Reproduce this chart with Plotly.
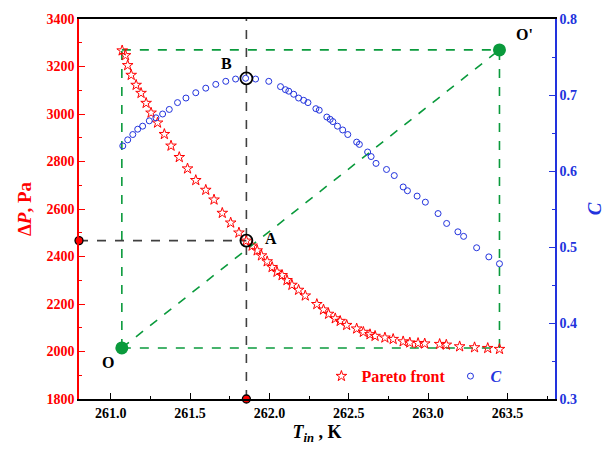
import plotly.graph_objects as go

# ---------------- data ----------------
pareto_T = [261.072, 261.093, 261.107, 261.129, 261.160, 261.191, 261.223, 261.254, 261.295,
            261.338, 261.380, 261.432, 261.484, 261.536, 261.599, 261.651, 261.703, 261.756,
            261.808, 261.854, 261.891, 261.923, 261.950, 261.986, 262.017, 262.048, 262.080,
            262.111, 262.142, 262.184, 262.226, 262.299, 262.341, 262.373, 262.415, 262.446,
            262.487, 262.550, 262.592, 262.634, 262.666, 262.728, 262.780, 262.843, 262.885,
            262.937, 262.979, 263.073, 263.115, 263.199, 263.293, 263.376, 263.450]
pareto_dP = [3267, 3247, 3205, 3164, 3122, 3088, 3046, 3005, 2963,
             2915, 2866, 2818, 2770, 2721, 2680, 2639, 2583, 2542,
             2500, 2466, 2445, 2425, 2404, 2379, 2355, 2335, 2321,
             2300, 2280, 2259, 2235, 2199, 2176, 2158, 2139, 2128,
             2111, 2096, 2082, 2072, 2065, 2058, 2052, 2042, 2037,
             2035, 2033, 2031, 2028, 2021, 2017, 2014, 2010]

c_T = [261.076, 261.107, 261.139, 261.170, 261.201, 261.243, 261.285, 261.327, 261.369,
       261.421, 261.474, 261.536, 261.599, 261.662, 261.725, 261.787, 261.850, 261.913,
       261.996, 262.070, 262.101, 262.122, 262.153, 262.184, 262.216, 262.243, 262.293,
       262.314, 262.362, 262.383, 262.400, 262.429, 262.462, 262.494, 262.550, 262.567,
       262.619, 262.641, 262.672, 262.738, 262.787, 262.843, 262.870, 262.931, 262.983,
       263.063, 263.117, 263.188, 263.224, 263.306, 263.383, 263.450]
c_val = [0.633, 0.641, 0.648, 0.655, 0.659, 0.666, 0.670, 0.675, 0.681,
         0.690, 0.696, 0.703, 0.709, 0.714, 0.718, 0.721, 0.722, 0.721,
         0.718, 0.711, 0.707, 0.705, 0.701, 0.696, 0.693, 0.690, 0.682,
         0.680, 0.671, 0.668, 0.665, 0.659, 0.654, 0.648, 0.638, 0.635,
         0.625, 0.619, 0.610, 0.602, 0.594, 0.579, 0.574, 0.567, 0.559,
         0.544, 0.531, 0.520, 0.514, 0.499, 0.487, 0.478]

point_O = (261.07, 2015)
point_Op = (263.45, 3270)
point_A = (261.855, 2467)
point_B = (261.855, 0.722)

x_range = [260.8, 263.8]
y_range = [1800, 3400]
y2_range = [0.3, 0.8]
x_ticks = [261.0, 261.5, 262.0, 262.5, 263.0, 263.5]

RED = "#ff0000"
BLUE = "#2233dd"
GREEN = "#0a9a3c"
FONT = "Liberation Serif"

fig = go.Figure()

# green dashed rectangle and diagonal
gdash = dict(color=GREEN, width=1.6, dash="dash")
Ox, Oy = point_O
Px, Py = point_Op
for (x0, y0, x1, y1) in [(Ox, Oy, Px, Oy), (Ox, Py, Px, Py), (Ox, Oy, Ox, Py),
                         (Px, Oy, Px, Py), (Ox, Oy, Px, Py)]:
    fig.add_shape(type="line", x0=x0, y0=y0, x1=x1, y1=y1, xref="x", yref="y",
                  line=gdash, layer="below")

# black dashed guide lines
kdash = dict(color="#404040", width=1.6, dash="dash")
fig.add_shape(type="line", x0=point_A[0], x1=point_A[0], y0=y_range[0], y1=y_range[1],
              xref="x", yref="y", line=kdash, layer="below")
fig.add_shape(type="line", x0=x_range[0], x1=point_A[0], y0=point_A[1], y1=point_A[1],
              xref="x", yref="y", line=kdash, layer="below")

fig.add_trace(go.Scatter(
    x=pareto_T, y=pareto_dP, mode="markers",
    name="<span style='color:#ff0000'><b>Pareto front</b></span>",
    marker=dict(symbol="star-open", size=8, color=RED, line=dict(width=1, color=RED)),
    yaxis="y"))
fig.add_trace(go.Scatter(
    x=c_T, y=c_val, mode="markers",
    name="<span style='color:#2233dd'><b><i>C</i></b></span>",
    marker=dict(symbol="circle-open", size=6, color=BLUE, line=dict(width=1, color=BLUE)),
    yaxis="y2"))

# green end points
fig.add_trace(go.Scatter(x=[Ox, Px], y=[Oy, Py], mode="markers", showlegend=False,
                         marker=dict(size=13, color=GREEN), yaxis="y", cliponaxis=False))
# A and B circles
fig.add_trace(go.Scatter(x=[point_A[0]], y=[point_A[1]], mode="markers", showlegend=False,
                         marker=dict(symbol="circle-open", size=12, color="black",
                                     line=dict(width=1.8, color="black")), yaxis="y"))
fig.add_trace(go.Scatter(x=[point_B[0]], y=[point_B[1]], mode="markers", showlegend=False,
                         marker=dict(symbol="circle-open", size=12, color="black",
                                     line=dict(width=1.8, color="black")), yaxis="y2"))
# red projection dots on axes
fig.add_trace(go.Scatter(x=[x_range[0], point_A[0]], y=[point_A[1], y_range[0]],
                         mode="markers", showlegend=False, cliponaxis=False,
                         marker=dict(size=8, color=RED, line=dict(width=1.3, color="black")),
                         yaxis="y"))

lab = dict(family=FONT, size=16, color="black")
for txt, x, y in [("A", 262.01, 2476), ("B", 261.73, 3213), ("O", 260.98, 1953),
                  ("O'", 263.61, 3335)]:
    fig.add_annotation(x=x, y=y, xref="x", yref="y", text="<b>%s</b>" % txt,
                       showarrow=False, font=lab)

fig.update_layout(
    width=614, height=451,
    margin=dict(l=79, r=56, t=13, b=52),
    paper_bgcolor="white", plot_bgcolor="white",
    font=dict(family=FONT),
    showlegend=True,
    legend=dict(orientation="h", x=0.9, xanchor="right", y=0.06, yanchor="middle",
                bgcolor="rgba(0,0,0,0)", font=dict(family=FONT, size=16),
                itemwidth=30, tracegroupgap=0),
    xaxis=dict(range=x_range, tickvals=x_ticks, tickformat=".1f",
               ticks="inside", ticklen=6, tickwidth=1, tickcolor="black",
               minor=dict(dtick=0.25, tick0=261.0, ticks="inside", ticklen=3, tickcolor="black"),
               showline=True, linecolor="black", linewidth=1.5, mirror=True,
               showgrid=False, zeroline=False,
               tickfont=dict(family=FONT, size=14, color="black", weight="bold"),
               title=dict(text="<b><i>T</i><sub><i>in</i></sub> , K</b>",
                          font=dict(family=FONT, size=18, color="black"), standoff=6)),
    yaxis=dict(range=y_range, dtick=200, tick0=1800,
               ticks="inside", ticklen=6, tickwidth=1, tickcolor=RED,
               minor=dict(dtick=100, ticks="inside", ticklen=3, tickcolor=RED),
               showline=True, linecolor=RED, linewidth=1.5,
               showgrid=False, zeroline=False,
               tickfont=dict(family=FONT, size=14, color=RED, weight="bold"),
               title=dict(text="<b>Δ<i>P</i>, Pa</b>",
                          font=dict(family=FONT, size=19, color=RED), standoff=10)),
    yaxis2=dict(range=y2_range, dtick=0.1, tick0=0.3, tickformat=".1f",
                overlaying="y", side="right",
                ticks="inside", ticklen=6, tickwidth=1, tickcolor=BLUE,
                minor=dict(dtick=0.05, ticks="inside", ticklen=3, tickcolor=BLUE),
                showline=True, linecolor=BLUE, linewidth=1.5,
                showgrid=False, zeroline=False,
                tickfont=dict(family=FONT, size=14, color=BLUE, weight="bold"),
                title=dict(text="<b><i>C</i></b>",
                           font=dict(family=FONT, size=19, color=BLUE), standoff=12)),
)

fig.write_html("out.html")
